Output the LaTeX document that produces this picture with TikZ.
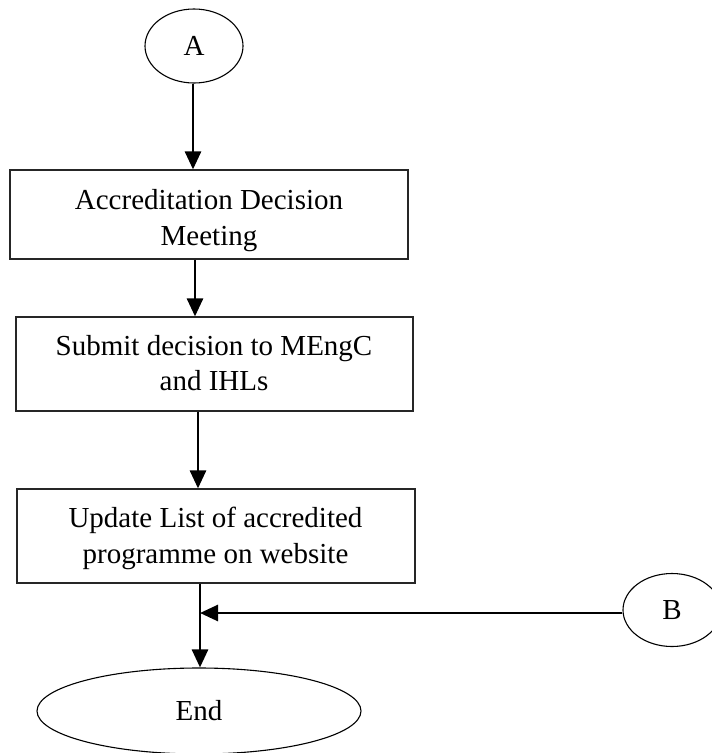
\documentclass[tikz,border=0pt]{standalone}
\usepackage{fontspec}
\setmainfont{Liberation Serif}
\usetikzlibrary{shapes.geometric,arrows.meta}
\begin{document}
\begin{tikzpicture}[x=1pt,y=-1pt,
  every node/.style={font=\fontsize{29}{35}\selectfont},
  stepbox/.style={draw=black!85, line width=1.2pt, rectangle, inner sep=0pt},
  term/.style={draw=black, line width=1.1pt, ellipse, inner sep=0pt},
  line/.style={anchor=base, inner sep=0pt},
  flow/.style={line width=2.7pt, -{Triangle[width=16pt,length=18pt]}}]
\useasboundingbox (0,0) rectangle (712,753);

% terminals
\node[term, minimum width=98pt, minimum height=74pt] (A) at (194,46) {A};
\node[term, minimum width=98pt, minimum height=73pt] (B) at (672,610) {B};
\node[term, minimum width=324pt, minimum height=86pt] (E) at (199,711) {End};

% process boxes
\node[stepbox, minimum width=398pt, minimum height=89pt] (b1) at (209,214.5) {};
\node[stepbox, minimum width=397pt, minimum height=94pt] (b2) at (214.5,364) {};
\node[stepbox, minimum width=398pt, minimum height=94pt] (b3) at (216,536) {};

% box texts
\node[line] (t11) at (209,209) {Accreditation Decision};
\node[line] (t12) at (209,245) {Meeting};
\node[line] (t21) at (214,355) {Submit decision to MEngC};
\node[line] (t22) at (214,390) {and IHLs};
\node[line] (t31) at (215.5,527) {Update List of accredited};
\node[line] (t32) at (215.5,563) {programme on website};

% connector positions
\coordinate (x1) at (193,0);
\coordinate (x2) at (195,0);
\coordinate (x3) at (198,0);
\coordinate (x4) at (200,0);
\coordinate (J) at (200,613);

% connectors
\draw[flow] (A.south -| x1) -- (b1.north -| x1);
\draw[flow] (b1.south -| x2) -- (b2.north -| x2);
\draw[flow] (b2.south -| x3) -- (b3.north -| x3);
\draw[flow] (b3.south -| x4) -- (E.north -| x4);
\draw[flow] (B.west |- J) -- (J);
\end{tikzpicture}
\end{document}
